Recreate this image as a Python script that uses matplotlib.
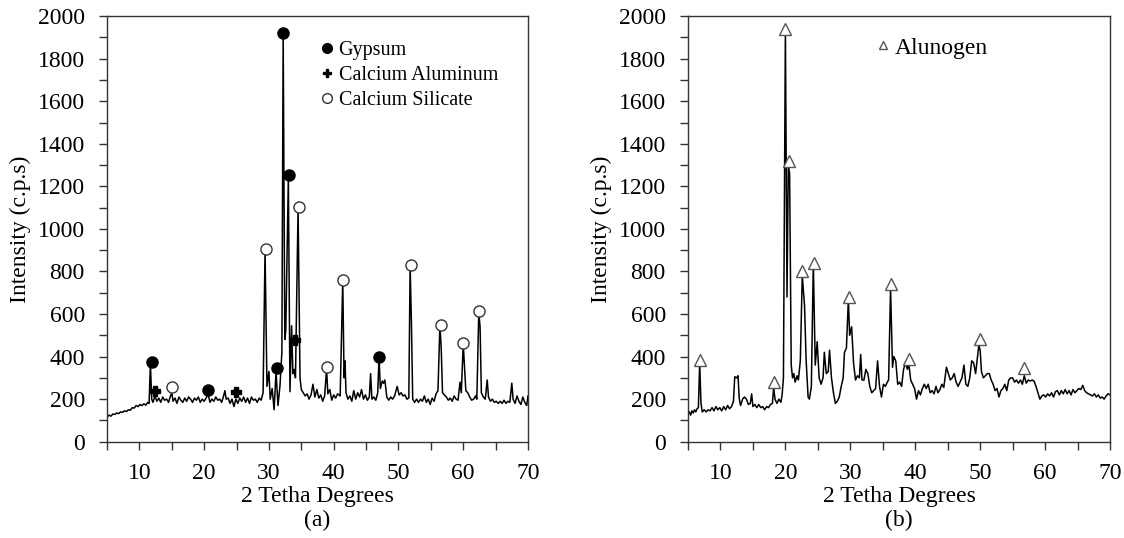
import numpy as np
import matplotlib
matplotlib.use("Agg")
import matplotlib.pyplot as plt
from matplotlib.lines import Line2D
from matplotlib.ticker import MultipleLocator

plt.rcParams['font.family'] = ['Liberation Serif', 'DejaVu Serif']

# ---- panel (a) trace
xa = [5.0, 5.3, 5.6, 5.9, 6.2, 6.5, 6.8, 7.1, 7.4, 7.7, 8.0, 8.3, 8.6, 8.9, 9.2, 9.5, 9.8, 10.1, 10.4, 10.7,
      11.0, 11.3, 11.5, 11.7, 11.9, 12.1, 12.4, 12.7, 13.0, 13.3, 13.6, 13.9, 14.2, 14.5, 14.8, 15.0, 15.2, 15.5, 15.8, 16.1,
      16.4, 16.7, 17.0, 17.3, 17.6, 17.9, 18.2, 18.5, 18.8, 19.1, 19.4, 19.7, 20.0, 20.3, 20.6, 20.9, 21.2, 21.5, 21.8, 22.1,
      22.4, 22.7, 23.0, 23.2, 23.4, 23.7, 24.0, 24.3, 24.6, 24.9, 25.2, 25.5, 25.8, 26.1, 26.4, 26.7, 27.0, 27.3, 27.6, 27.9,
      28.2, 28.5, 28.8, 29.1, 29.4, 29.7, 30.0, 30.2, 30.5, 30.8, 31.1, 31.4, 31.7, 32.0, 32.2, 32.45, 32.6, 33.0, 33.25, 33.5,
      33.7, 33.9, 34.1, 34.5, 34.8, 35.0, 35.3, 35.6, 35.9, 36.2, 36.5, 36.8, 37.1, 37.4, 37.7, 38.0, 38.3, 38.6, 38.9, 39.1,
      39.4, 39.7, 40.0, 40.3, 40.6, 41.0, 41.4, 41.6, 41.75, 41.9, 42.2, 42.5, 42.8, 43.1, 43.4, 43.7, 44.0, 44.3, 44.6, 44.9,
      45.2, 45.5, 45.7, 45.9, 46.2, 46.5, 46.8, 47.0, 47.2, 47.5, 47.7, 47.9, 48.2, 48.5, 48.8, 49.1, 49.4, 49.8, 50.1, 50.4,
      50.7, 51.0, 51.3, 51.6, 51.8, 52.0, 52.2, 52.5, 52.8, 53.1, 53.4, 53.7, 54.0, 54.3, 54.6, 54.9, 55.2, 55.5, 55.8, 56.1,
      56.4, 56.6, 56.8, 57.1, 57.4, 57.7, 58.0, 58.3, 58.6, 58.9, 59.2, 59.5, 59.7, 60.0, 60.15, 60.4, 60.7, 61.0, 61.3, 61.6,
      61.9, 62.1, 62.4, 62.6, 62.8, 63.1, 63.4, 63.7, 63.9, 64.2, 64.5, 64.8, 65.1, 65.4, 65.7, 66.0, 66.3, 66.6, 66.9, 67.2,
      67.5, 67.7, 68.0, 68.3, 68.6, 68.9, 69.2, 69.5, 69.8, 70.0]
ya = [115, 125, 120, 130, 128, 135, 132, 140, 138, 145, 142, 150, 148, 160, 158, 170, 165, 175, 170, 178,
      172, 185, 180, 370, 200, 185, 215, 190, 205, 185, 210, 195, 200, 185, 215, 230, 190, 205, 180, 210,
      195, 185, 205, 190, 210, 200, 185, 205, 195, 210, 185, 200, 190, 205, 225, 185, 200, 190, 210, 195,
      200, 185, 215, 240, 200, 205, 180, 200, 165, 200, 180, 205, 190, 210, 185, 205, 180, 210, 195, 200,
      185, 205, 195, 230, 900, 260, 330, 200, 250, 150, 330, 170, 260, 420, 1920, 480, 520, 1240, 235, 545,
      320, 340, 300, 1100, 300, 245, 230, 215, 225, 200, 220, 270, 210, 245, 205, 220, 190, 215, 340, 225,
      245, 195, 220, 205, 225, 215, 760, 300, 380, 230, 200, 215, 190, 240, 200, 230, 210, 245, 200, 220,
      195, 210, 320, 200, 210, 195, 230, 400, 250, 285, 275, 290, 210, 195, 210, 200, 215, 260, 220, 230,
      215, 220, 200, 205, 830, 560, 200, 185, 200, 185, 200, 190, 215, 185, 200, 175, 205, 190, 225, 240,
      550, 440, 230, 220, 210, 195, 205, 190, 215, 200, 195, 280, 230, 460, 380, 240, 230, 210, 195, 200,
      215, 200, 610, 540, 230, 210, 200, 290, 210, 190, 200, 185, 190, 180, 190, 180, 195, 180, 190, 185,
      275, 200, 180, 215, 190, 175, 210, 185, 170, 215]

gyp_x = [11.9, 20.6, 31.2, 32.2, 33.1, 47.0]
gyp_y = [375, 245, 345, 1920, 1255, 400]
caal_x = [12.4, 24.9, 34.0]
caal_y = [240, 235, 478]
casi_x = [15.0, 29.5, 34.6, 38.9, 41.5, 51.9, 56.5, 60.0, 62.4]
casi_y = [255, 905, 1105, 350, 760, 830, 550, 462, 615]

# ---- panel (b) trace
xb = [5.0, 5.2, 5.4, 5.6, 5.8, 6.0, 6.2, 6.4, 6.6, 6.8, 7.0, 7.2, 7.5, 7.8, 8.1, 8.4, 8.7, 9.0, 9.3, 9.6,
      9.9, 10.2, 10.5, 10.8, 11.1, 11.4, 11.7, 12.0, 12.2, 12.5, 12.7, 12.9, 13.1, 13.4, 13.7, 14.0, 14.3, 14.6, 14.8, 15.0,
      15.3, 15.6, 15.9, 16.2, 16.5, 16.8, 17.1, 17.4, 17.7, 18.0, 18.2, 18.4, 18.7, 19.0, 19.3, 19.5, 19.7, 20.0, 20.25, 20.45,
      20.65, 20.9, 21.1, 21.3, 21.5, 21.8, 22.0, 22.3, 22.6, 22.8, 22.95, 23.2, 23.5, 23.7, 24.0, 24.3, 24.6, 24.9, 25.2, 25.5,
      25.8, 26.0, 26.3, 26.6, 26.8, 27.1, 27.4, 27.7, 28.0, 28.3, 28.6, 28.9, 29.1, 29.4, 29.7, 29.9, 30.2, 30.5, 30.8, 31.1,
      31.4, 31.6, 31.8, 32.1, 32.4, 32.7, 33.0, 33.3, 33.6, 33.9, 34.2, 34.5, 34.8, 35.1, 35.4, 35.7, 35.9, 36.2, 36.5, 36.7,
      37.0, 37.3, 37.6, 37.9, 38.2, 38.5, 38.8, 39.0, 39.3, 39.6, 39.9, 40.2, 40.5, 40.8, 41.1, 41.4, 41.7, 42.0, 42.3, 42.6,
      42.9, 43.2, 43.5, 43.8, 44.1, 44.4, 44.8, 45.1, 45.4, 45.7, 46.0, 46.3, 46.6, 46.9, 47.2, 47.5, 47.8, 48.1, 48.4, 48.7,
      49.0, 49.3, 49.6, 49.8, 50.0, 50.2, 50.5, 50.8, 51.1, 51.4, 51.7, 52.0, 52.3, 52.6, 52.9, 53.2, 53.5, 53.8, 54.1, 54.4,
      54.7, 55.0, 55.3, 55.6, 55.9, 56.2, 56.5, 56.8, 57.1, 57.4, 57.7, 58.0, 58.3, 58.6, 58.9, 59.2, 59.5, 59.8, 60.1, 60.4,
      60.7, 61.0, 61.3, 61.6, 61.9, 62.2, 62.5, 62.8, 63.1, 63.4, 63.7, 64.0, 64.3, 64.6, 64.9, 65.2, 65.5, 65.8, 66.1, 66.4,
      66.7, 67.0, 67.3, 67.6, 67.9, 68.2, 68.5, 68.8, 69.1, 69.4, 69.7, 70.0]
yb = [130, 140, 125, 145, 135, 150, 140, 155, 160, 370, 180, 140, 150, 140, 150, 145, 160, 145, 165, 150,
      160, 145, 165, 150, 170, 155, 165, 190, 305, 300, 310, 200, 170, 200, 210, 200, 175, 180, 225, 165,
      175, 160, 175, 160, 165, 150, 165, 160, 175, 180, 255, 200, 180, 200, 185, 220, 300, 1940, 680, 1300,
      1260, 360, 300, 320, 280, 310, 290, 380, 780, 700, 640, 380, 210, 200, 260, 840, 360, 470, 300, 270,
      300, 420, 320, 330, 430, 300, 230, 180, 190, 210, 260, 300, 420, 440, 670, 500, 540, 370, 290, 310,
      300, 410, 290, 290, 340, 320, 260, 230, 240, 250, 380, 260, 210, 270, 260, 280, 290, 720, 350, 400,
      380, 270, 280, 260, 340, 370, 340, 370, 290, 270, 250, 200, 240, 220, 250, 270, 250, 270, 230, 240,
      225, 260, 230, 245, 270, 255, 350, 320, 290, 300, 320, 280, 260, 280, 300, 360, 270, 260, 300, 380,
      370, 320, 400, 455, 430, 330, 300, 310, 320, 320, 290, 270, 240, 250, 210, 240, 250, 270, 240, 290,
      300, 300, 280, 290, 275, 290, 270, 310, 275, 290, 285, 290, 285, 260, 230, 200, 215, 220, 210, 225,
      215, 230, 210, 235, 240, 220, 240, 225, 245, 225, 240, 220, 245, 230, 240, 250, 245, 265, 240, 230,
      225, 220, 215, 225, 210, 220, 205, 210, 200, 215, 225, 220]

alu_x = [6.8, 18.3, 20.0, 20.6, 22.6, 24.4, 29.8, 36.3, 39.0, 49.9, 56.8]
alu_y = [385, 280, 1940, 1320, 800, 840, 680, 740, 390, 485, 345]

fig = plt.figure(figsize=(11.24, 5.38), dpi=100)
ax1 = fig.add_axes([107 / 1124, 0.179, 421 / 1124, 0.791])
ax2 = fig.add_axes([688 / 1124, 0.179, 422 / 1124, 0.791])

fs = 17
lfs = 14.5

for ax in (ax1, ax2):
    ax.set_xlim(5, 70)
    ax.set_ylim(0, 2000)
    ax.xaxis.set_major_locator(MultipleLocator(10))
    ax.xaxis.set_minor_locator(MultipleLocator(5))
    ax.yaxis.set_major_locator(MultipleLocator(200))
    ax.yaxis.set_minor_locator(MultipleLocator(100))
    ax.tick_params(which='both', direction='out', length=6, width=1, colors='#333333',
                   labelsize=fs, labelcolor='black')
    ax.tick_params(axis='y', which='major', pad=10)
    ax.tick_params(axis='x', which='major', pad=9)
    for s in ax.spines.values():
        s.set_color('#333333')
        s.set_linewidth(1.0)
    ax.set_xlabel('2 Tetha Degrees', fontsize=fs, labelpad=2)
    ax.set_ylabel('Intensity (c.p.s)', fontsize=fs, labelpad=5)

ax1.plot(xa, ya, color='black', lw=1.1)
ax1.plot(gyp_x, gyp_y, 'o', color='black', ms=8, ls='none')
ax1.plot(caal_x, caal_y, 'P', color='black', ms=7, ls='none')
ax1.plot(casi_x, casi_y, 'o', mfc='white', mec='#333333', mew=1, ms=8, ls='none')

h1 = [Line2D([], [], marker='o', color='black', ls='none', ms=7),
      Line2D([], [], marker='P', color='black', ls='none', ms=6),
      Line2D([], [], marker='o', mfc='white', mec='#333333', ls='none', ms=7)]
ax1.legend(h1, ['Gypsum', 'Calcium Aluminum', 'Calcium Silicate'], loc='upper left',
           bbox_to_anchor=(0.495, 0.951), borderaxespad=0, frameon=False, fontsize=lfs,
           handletextpad=0.15, labelspacing=0.3, borderpad=0.2, handlelength=0.8)

ax2.plot(xb, yb, color='black', lw=1.1)
ax2.plot(alu_x, alu_y, '^', mfc='white', mec='#555555', mew=1, ms=8, ls='none')
h2 = [Line2D([], [], marker='^', mfc='white', mec='#555555', ls='none', ms=6)]
ax2.legend(h2, ['Alunogen'], loc='upper left', bbox_to_anchor=(0.435, 0.962), borderaxespad=0,
           frameon=False, fontsize=fs, handletextpad=0.2, borderpad=0.2, handlelength=0.6)

ax1.text(0.5, -0.16, '(a)', transform=ax1.transAxes, ha='center', va='top', fontsize=fs)
ax2.text(0.5, -0.16, '(b)', transform=ax2.transAxes, ha='center', va='top', fontsize=fs)

fig.savefig('out.png', dpi=100)
